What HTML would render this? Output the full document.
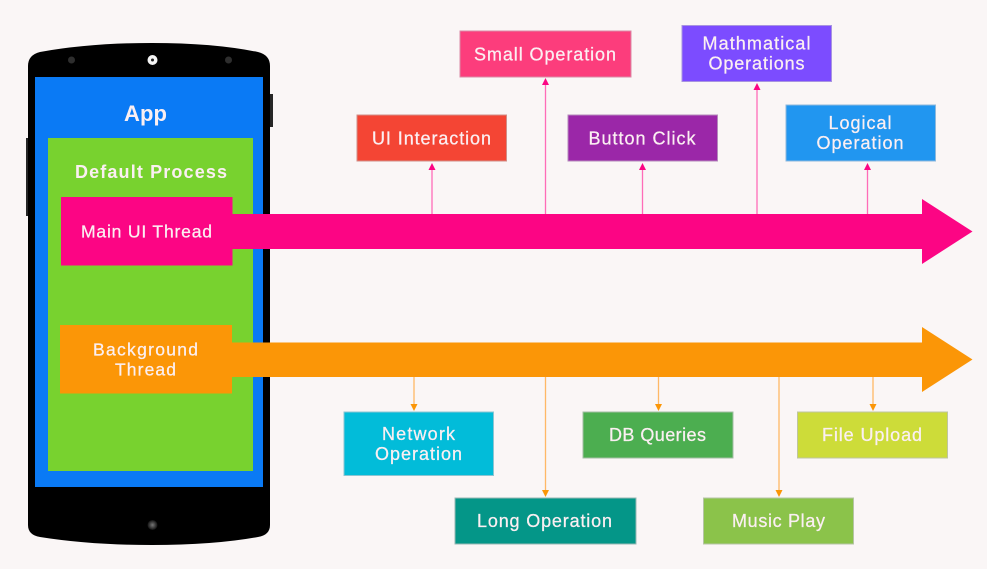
<!DOCTYPE html>
<html>
<head>
<meta charset="utf-8">
<style>
html,body{margin:0;padding:0;background:#faf6f6;overflow:hidden;}
svg{display:block;filter:blur(.35px);}
text{font-family:"Liberation Sans",sans-serif;fill:#fbeff2;stroke:#fbeff2;stroke-width:.25;text-anchor:middle;font-size:18px;}
.b{stroke-width:1;}
</style>
</head>
<body>
<svg width="987" height="569" viewBox="0 0 987 569" xmlns="http://www.w3.org/2000/svg">
<defs>
<radialGradient id="hb"><stop offset="0" stop-color="#777"/><stop offset="1" stop-color="#111"/></radialGradient>
</defs>
<rect width="987" height="569" fill="#faf6f6"/>

<!-- phone side buttons -->
<rect x="26" y="138" width="4" height="78" fill="#262626"/>
<rect x="269" y="94" width="4" height="33" fill="#262626"/>

<!-- phone body -->
<path d="M28 66 Q28 55 40 52 Q90 43 152 43 Q214 43 258 52 Q270 55 270 66 L270 525 Q270 535 258 537 Q214 545 152 545 Q90 545 40 537 Q28 535 28 525 Z" fill="#000"/>
<circle cx="71.500" cy="60" r="3.500" fill="#2e2e2e"/>
<circle cx="228.500" cy="60" r="3.500" fill="#2e2e2e"/>
<circle cx="152.500" cy="60" r="5" fill="#f5f5f5"/>
<circle cx="152.500" cy="60" r="1.500" fill="#222"/>
<circle cx="152.500" cy="525" r="5" fill="url(#hb)"/>

<!-- screen -->
<rect x="35" y="77" width="228" height="410" fill="#0a7af5"/>
<rect x="48" y="138" width="205" height="333" fill="#78d22f"/>
<text x="145.500" y="121" textLength="43" style="font-size:22px;font-weight:bold;stroke-width:0">App</text>
<text x="151" y="178" textLength="152" style="font-size:18px;font-weight:bold;stroke-width:0">Default Process</text>

<!-- connectors top -->
<g stroke="#ff6cb8" stroke-width="1.300">
<line x1="432" y1="214" x2="432" y2="168"/>
<line x1="545.500" y1="214" x2="545.500" y2="83"/>
<line x1="642.500" y1="214" x2="642.500" y2="168"/>
<line x1="757" y1="214" x2="757" y2="88"/>
<line x1="867.500" y1="214" x2="867.500" y2="168"/>
</g>
<g fill="#fc0584">
<path d="M432 163l3.500 7h-7z"/>
<path d="M545.500 78l3.500 7h-7z"/>
<path d="M642.500 163l3.500 7h-7z"/>
<path d="M757 83l3.500 7h-7z"/>
<path d="M867.500 163l3.500 7h-7z"/>
</g>

<!-- connectors bottom -->
<g stroke="#ffb866" stroke-width="1.300">
<line x1="414" y1="377" x2="414" y2="406"/>
<line x1="545.500" y1="377" x2="545.500" y2="492"/>
<line x1="658.500" y1="377" x2="658.500" y2="406"/>
<line x1="779" y1="377" x2="779" y2="492"/>
<line x1="873" y1="377" x2="873" y2="406"/>
</g>
<g fill="#fb9607">
<path d="M414 411l-3.500-7h7z"/>
<path d="M545.500 497l-3.500-7h7z"/>
<path d="M658.500 411l-3.500-7h7z"/>
<path d="M779 497l-3.500-7h7z"/>
<path d="M873 411l-3.500-7h7z"/>
</g>

<!-- main thread arrow -->
<path d="M61 197H232.500V214H922V199L972.500 231.500L922 264V249H232.500V265.500H61Z" fill="#fc0584"/>
<text x="146.500" y="237.500" textLength="131" style="font-size:17.500px">Main UI Thread</text>

<!-- background thread arrow -->
<path d="M60 325H232V342.500H922V327L972.500 359.500L922 392V377H232V393.500H60Z" fill="#fb9607"/>
<text x="145.500" y="355.500" textLength="105" style="font-size:17.500px">Background</text>
<text x="145.500" y="375.500" textLength="61" style="font-size:17.500px">Thread</text>

<!-- top boxes -->
<rect class="b" x="460" y="31" width="171" height="46" fill="#fc3d7c" stroke="#d98aa6"/>
<text x="545" y="60.500" textLength="142">Small Operation</text>

<rect class="b" x="357" y="115" width="149.500" height="46" fill="#f44534" stroke="#d08f88"/>
<text x="431.500" y="144.500" textLength="119">UI Interaction</text>

<rect class="b" x="568" y="115" width="149.500" height="46" fill="#9b27a8" stroke="#b48abb"/>
<text x="642" y="144.500" textLength="107">Button Click</text>

<rect class="b" x="682" y="25.500" width="149.500" height="56" fill="#7c4cff" stroke="#a894e0"/>
<text x="756.500" y="49.500" textLength="108">Mathmatical</text>
<text x="756.500" y="69.500" textLength="96">Operations</text>

<rect class="b" x="786" y="105" width="149.500" height="56" fill="#2196f0" stroke="#8db8dc"/>
<text x="860" y="129" textLength="63">Logical</text>
<text x="860" y="149" textLength="87">Operation</text>

<!-- bottom boxes -->
<rect class="b" x="344" y="412" width="149.500" height="63.500" fill="#02bcd9" stroke="#8cc5d2"/>
<text x="418.500" y="440" textLength="73">Network</text>
<text x="418.500" y="460" textLength="87">Operation</text>

<rect class="b" x="455" y="498" width="181" height="46" fill="#049688" stroke="#98b8b4"/>
<text x="544.500" y="527" textLength="135">Long Operation</text>

<rect class="b" x="583" y="412" width="150" height="46" fill="#4cae50" stroke="#a3bfa4"/>
<text x="657.500" y="441" textLength="97">DB Queries</text>

<rect class="b" x="797.500" y="412" width="150" height="46" fill="#cddc39" stroke="#bfc5a0"/>
<text x="872" y="441" textLength="100">File Upload</text>

<rect class="b" x="703.500" y="498" width="150" height="46" fill="#8bc34a" stroke="#b5c4a5"/>
<text x="778.500" y="527" textLength="93">Music Play</text>
</svg>
</body>
</html>
